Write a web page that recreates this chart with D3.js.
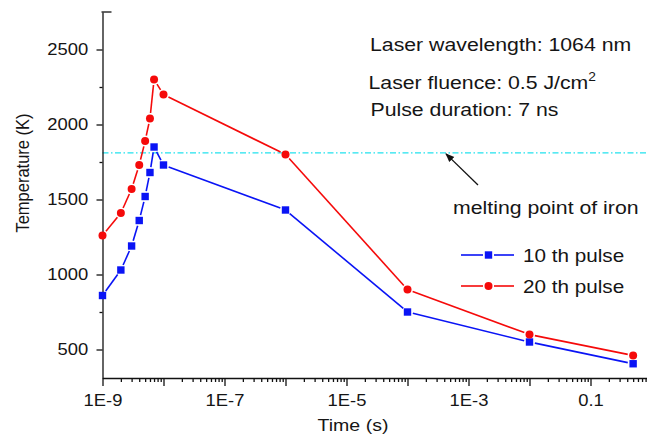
<!DOCTYPE html>
<html>
<head>
<meta charset="utf-8">
<script src="https://cdn.jsdelivr.net/npm/d3@7"></script>
<style>
  body { margin: 0; background: #fff; }
  text { font-family: "Liberation Sans", Arial, sans-serif; fill: #151515; }
</style>
</head>
<body>
<div id="chart"></div>
<script>
// data
var times   = [1e-9, 2e-9, 3e-9, 4e-9, 5e-9, 6e-9, 7e-9, 1e-8, 1e-6, 1e-4, 1e-2, 0.5];
var pulse10 = [860, 1030, 1190, 1360, 1520, 1680, 1850, 1730, 1430, 750, 550, 405];
var pulse20 = [1260, 1410, 1570, 1730, 1890, 2040, 2300, 2200, 1800, 900, 600, 460];
var meltingPoint = 1811;
var yTicks = [500, 1000, 1500, 2000, 2500];
var yMinorTicks = [750, 1250, 1750, 2250];
var xLabelTicks = [1e-9, 1e-7, 1e-5, 1e-3, 0.1];
var xLabels = ["1E-9", "1E-7", "1E-5", "1E-3", "0.1"];
var seriesNames = ["10 th pulse", "20 th pulse"];
var seriesColors = ["#0a14f5", "#f50a0a"];
var notes = ["Laser wavelength: 1064 nm", "Laser fluence: 0.5 J/cm", "Pulse duration: 7 ns"];

var W = 647, H = 437;
var sx = 1.15; // glyphs in the figure are a little wide

var svg = d3.select("#chart").append("svg")
  .attr("width", W)
  .attr("height", H);

var x = d3.scaleLog().domain([1e-9, 1]).range([102.5, 651.5]);
var y = d3.scaleLinear().domain([310, 2750]).range([378, 12]);

svg.append("defs").append("marker")
  .attr("id", "arrow")
  .attr("viewBox", "0 0 10 10")
  .attr("refX", 9).attr("refY", 5)
  .attr("markerWidth", 9).attr("markerHeight", 9)
  .attr("markerUnits", "userSpaceOnUse")
  .attr("orient", "auto")
  .append("path")
  .attr("d", "M0,1 L10,5 L0,9 Z")
  .attr("fill", "#111");

// melting point line
svg.append("line")
  .attr("x1", x(1e-9)).attr("x2", W)
  .attr("y1", y(meltingPoint)).attr("y2", y(meltingPoint))
  .attr("stroke", "#22e2ee")
  .attr("stroke-width", 1.2)
  .attr("stroke-dasharray", "6,2.5,1.5,2.5");

// axes
svg.append("g")
  .attr("transform", "translate(" + x(1e-9) + ",0)")
  .call(d3.axisLeft(y).tickValues(yTicks).tickSize(6).tickSizeOuter(0).tickPadding(6.5).tickFormat(d3.format("d")));
svg.append("g")
  .attr("transform", "translate(" + x(1e-9) + ",0)")
  .call(d3.axisLeft(y).tickValues(yMinorTicks).tickSize(3).tickFormat(""))
  .select(".domain").remove();

var decades = d3.range(-9, 1).map(e => Math.pow(10, e));
var minors = [];
decades.slice(0, -1).forEach(function(d) {
  d3.range(2, 10).forEach(k => minors.push(d * k));
});
var labelFor = function(d) {
  var i = xLabelTicks.findIndex(t => Math.abs(Math.log10(t) - Math.log10(d)) < 1e-6);
  return i < 0 ? "" : xLabels[i];
};
svg.append("g")
  .attr("transform", "translate(0," + y(310) + ")")
  .call(d3.axisBottom(x).tickValues(decades).tickSize(8).tickSizeOuter(0).tickPadding(9).tickFormat(labelFor));
svg.append("g")
  .attr("transform", "translate(0," + y(310) + ")")
  .call(d3.axisBottom(x).tickValues(minors).tickSize(4).tickFormat(""))
  .select(".domain").remove();

svg.selectAll(".tick text")
  .attr("font-size", 16)
  .attr("font-family", "Liberation Sans, Arial, sans-serif")
  .attr("fill", "#151515")
  .attr("transform", "scale(" + sx + ",1)");
svg.selectAll(".domain, .tick line").attr("stroke", "#111").attr("stroke-width", 1.3);

// small cap at the top of the y axis
svg.append("line")
  .attr("x1", x(1e-9) - 1).attr("x2", x(1e-9) + 9)
  .attr("y1", y(2750)).attr("y2", y(2750))
  .attr("stroke", "#111").attr("stroke-width", 1.3);

// series: segments stop short of the markers
function drawSeries(vals, color, shape) {
  var pts = vals.map((v, i) => [x(times[i]), y(v)]);
  var gap = 5.5;
  var segs = [];
  for (var i = 0; i < pts.length - 1; i++) {
    var a = pts[i], b = pts[i + 1];
    var dx = b[0] - a[0], dy = b[1] - a[1];
    var len = Math.sqrt(dx * dx + dy * dy);
    if (len <= 2 * gap) continue;
    segs.push([a[0] + dx / len * gap, a[1] + dy / len * gap, b[0] - dx / len * gap, b[1] - dy / len * gap]);
  }
  svg.append("g").selectAll("line")
    .data(segs)
    .enter().append("line")
    .attr("x1", d => d[0]).attr("y1", d => d[1])
    .attr("x2", d => d[2]).attr("y2", d => d[3])
    .attr("stroke", color)
    .attr("stroke-width", 1.6);
  var g = svg.append("g");
  if (shape === "square") {
    g.selectAll("rect").data(pts).enter().append("rect")
      .attr("x", d => d[0] - 3.7).attr("y", d => d[1] - 3.7)
      .attr("width", 7.4).attr("height", 7.4)
      .attr("fill", color);
  } else {
    g.selectAll("circle").data(pts).enter().append("circle")
      .attr("cx", d => d[0]).attr("cy", d => d[1])
      .attr("r", 4)
      .attr("fill", color);
  }
}
drawSeries(pulse10, seriesColors[0], "square");
drawSeries(pulse20, seriesColors[1], "circle");

// helper for stretched text
function label(tx, ty, str, size, anchor) {
  return svg.append("text")
    .attr("transform", "translate(" + tx + "," + ty + ") scale(" + sx + ",1)")
    .attr("font-size", size)
    .attr("text-anchor", anchor || "start")
    .text(str);
}

// notes
label(370, 51, notes[0], 18.5);
var fl = label(368.5, 88.5, notes[1], 18.5);
fl.append("tspan").attr("dy", -8).attr("font-size", 12).text("2");
label(370.5, 116, notes[2], 18.5);

// arrow + label
svg.append("line")
  .attr("x1", 478).attr("y1", 185)
  .attr("x2", 446).attr("y2", y(meltingPoint) + 1)
  .attr("stroke", "#111").attr("stroke-width", 1.3)
  .attr("marker-end", "url(#arrow)");
label(453, 214, "melting point of iron", 18.5);

// legend
var legY = [255, 286];
seriesNames.forEach(function(name, i) {
  svg.append("line").attr("x1", 461).attr("x2", 483).attr("y1", legY[i]).attr("y2", legY[i])
    .attr("stroke", seriesColors[i]).attr("stroke-width", 1.6);
  svg.append("line").attr("x1", 494).attr("x2", 514).attr("y1", legY[i]).attr("y2", legY[i])
    .attr("stroke", seriesColors[i]).attr("stroke-width", 1.6);
  if (i === 0) {
    svg.append("rect").attr("x", 488.5 - 3.7).attr("y", legY[i] - 3.7)
      .attr("width", 7.4).attr("height", 7.4).attr("fill", seriesColors[i]);
  } else {
    svg.append("circle").attr("cx", 488.5).attr("cy", legY[i]).attr("r", 4)
      .attr("fill", seriesColors[i]);
  }
  label(523, legY[i] + 6.5, name, 18);
});

// axis titles
label(353, 431, "Time (s)", 17, "middle");
svg.append("text")
  .attr("transform", "translate(29,173) scale(" + sx + ",1) rotate(-90)")
  .attr("text-anchor", "middle")
  .attr("font-size", 16.5)
  .text("Temperature (K)");
</script>
</body>
</html>
